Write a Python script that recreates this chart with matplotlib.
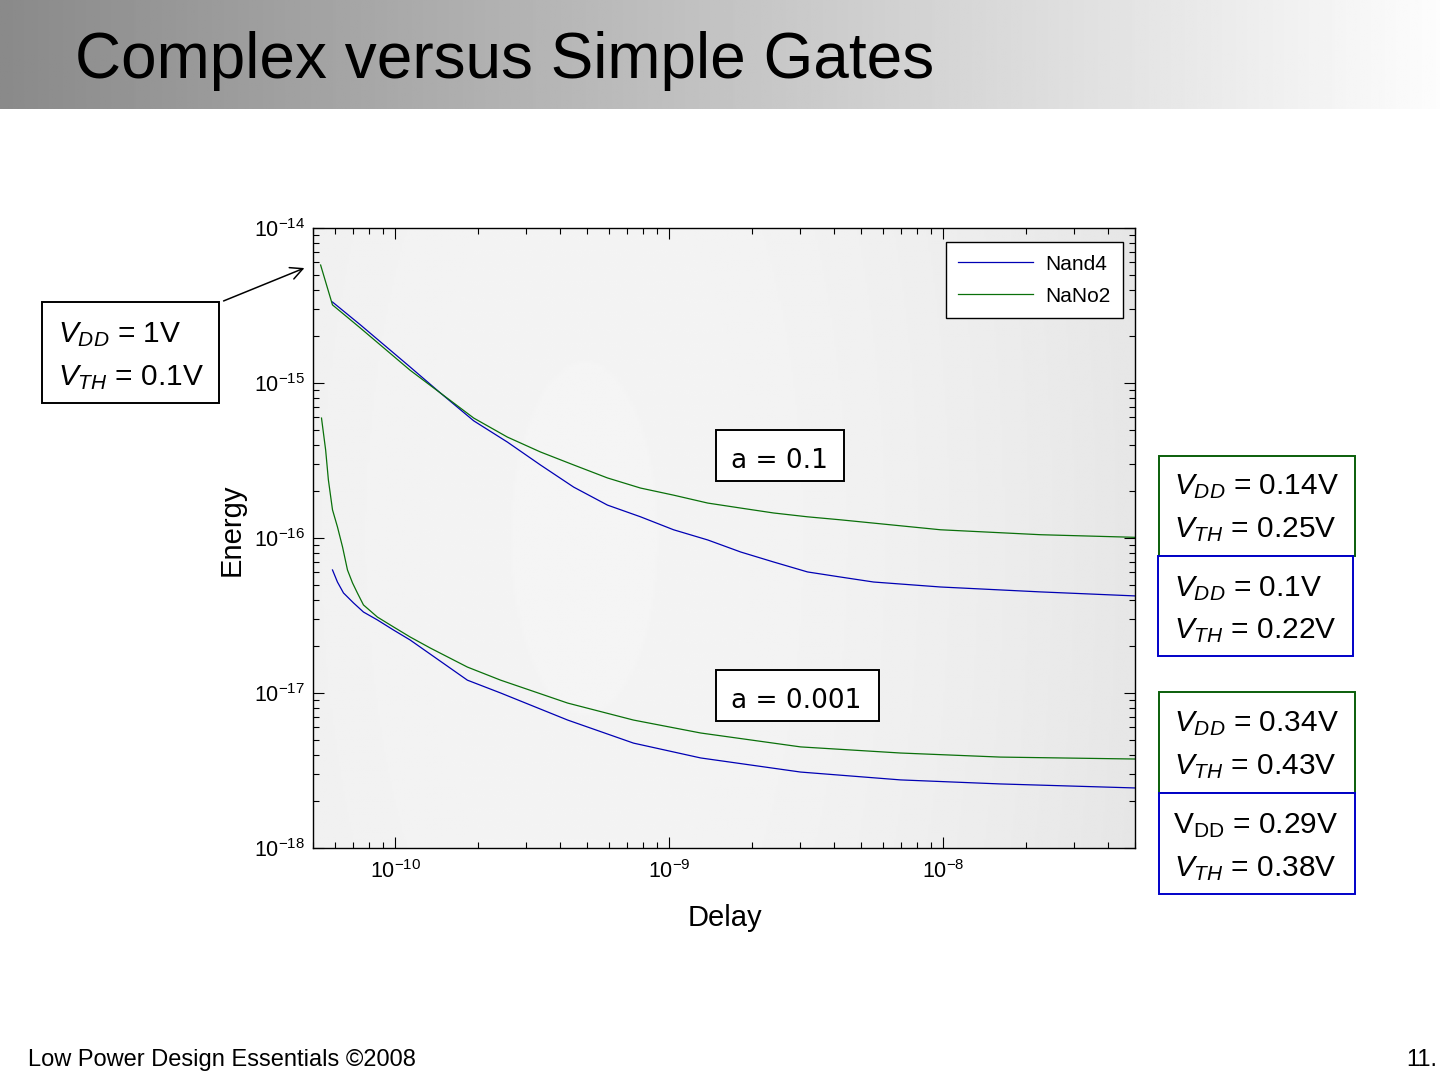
import matplotlib
matplotlib.use('Agg')
import matplotlib.pyplot as plt
import numpy as np
from matplotlib.patches import Rectangle, FancyArrowPatch

plt.rcParams['font.family'] = ['Liberation Sans', 'DejaVu Sans']
plt.rcParams['mathtext.fontset'] = 'custom'
plt.rcParams['mathtext.rm'] = 'Liberation Sans'
plt.rcParams['mathtext.it'] = 'Liberation Sans:italic'
plt.rcParams['mathtext.default'] = 'regular'

# a = 0.1
nand4_hi_delay = [5.89e-11, 7.45e-11, 1.13e-10, 1.46e-10, 1.93e-10, 2.56e-10, 3.38e-10, 4.47e-10,
                  5.94e-10, 7.84e-10, 1.035e-9, 1.38e-9, 1.82e-9, 2.40e-9, 3.19e-9, 4.21e-9,
                  5.56e-9, 9.75e-9, 2.26e-8, 5.0e-8]
nand4_hi_energy = [3.33e-15, 2.37e-15, 1.27e-15, 8.61e-16, 5.70e-16, 4.16e-16, 2.96e-16, 2.13e-16,
                   1.63e-16, 1.37e-16, 1.13e-16, 9.71e-17, 8.12e-17, 7.00e-17, 6.04e-17, 5.60e-17,
                   5.20e-17, 4.83e-17, 4.49e-17, 4.23e-17]
nano2_hi_delay = [5.33e-11, 5.89e-11, 7.45e-11, 1.13e-10, 1.46e-10, 1.93e-10, 2.56e-10, 3.38e-10,
                  4.47e-10, 5.94e-10, 7.84e-10, 1.035e-9, 1.38e-9, 1.82e-9, 2.40e-9, 3.19e-9,
                  4.21e-9, 9.75e-9, 2.26e-8, 5.0e-8]
nano2_hi_energy = [5.77e-15, 3.19e-15, 2.26e-15, 1.21e-15, 8.61e-16, 5.94e-16, 4.48e-16, 3.59e-16,
                   2.96e-16, 2.44e-16, 2.10e-16, 1.89e-16, 1.68e-16, 1.56e-16, 1.45e-16, 1.37e-16,
                   1.31e-16, 1.13e-16, 1.05e-16, 1.01e-16]

# a = 0.001
nand4_lo_delay = [5.89e-11, 6.14e-11, 6.46e-11, 7.03e-11, 7.64e-11, 8.59e-11, 9.83e-11, 1.13e-10,
                  1.83e-10, 2.42e-10, 4.25e-10, 7.39e-10, 1.30e-9, 3.01e-9, 6.97e-9, 1.61e-8, 5.0e-8]
nand4_lo_energy = [6.22e-17, 5.20e-17, 4.42e-17, 3.81e-17, 3.33e-17, 2.96e-17, 2.55e-17, 2.20e-17,
                   1.21e-17, 1.00e-17, 6.69e-18, 4.75e-18, 3.81e-18, 3.09e-18, 2.75e-18, 2.59e-18,
                   2.44e-18]
nano2_lo_delay = [5.37e-11, 5.56e-11, 5.69e-11, 5.89e-11, 6.14e-11, 6.41e-11, 6.68e-11, 6.97e-11,
                  7.26e-11, 7.64e-11, 8.59e-11, 9.83e-11, 1.13e-10, 1.34e-10, 1.83e-10, 2.42e-10,
                  4.25e-10, 7.39e-10, 1.30e-9, 3.01e-9, 6.97e-9, 1.61e-8, 5.0e-8]
nano2_lo_energy = [5.94e-16, 3.70e-16, 2.37e-16, 1.52e-16, 1.18e-16, 8.74e-17, 6.22e-17, 5.13e-17,
                   4.42e-17, 3.70e-17, 3.09e-17, 2.67e-17, 2.30e-17, 1.95e-17, 1.47e-17, 1.21e-17,
                   8.61e-18, 6.69e-18, 5.52e-18, 4.49e-18, 4.10e-18, 3.86e-18, 3.75e-18]

BLUE = '#0000b4'
GREEN = '#0a700a'
W, H = 1440, 1080


def fx(x):
    return x / W


def fy(y):
    return 1 - y / H


fig = plt.figure(figsize=(14.4, 10.8), dpi=100)

# title bar
tb = fig.add_axes([0, fy(109), 1, 109 / H])
tb.imshow(np.linspace(0.54, 0.99, 512)[None, :], cmap='gray', vmin=0, vmax=1,
          aspect='auto', extent=[0, 1, 0, 1])
tb.set_xticks([])
tb.set_yticks([])
tb.axis('off')
fig.text(fx(75), fy(78), 'Complex versus Simple Gates', fontsize=46, va='baseline')

# plot area with soft shaded background
pos = [fx(313), fy(848), (1135 - 313) / W, (848 - 228) / H]
bg = fig.add_axes(pos)
u = np.linspace(0, 1, 400)
v = np.linspace(0, 1, 300)
U, V = np.meshgrid(u, v)
shade = 0.958 - 0.055 * ((U - 0.33) / 0.67) ** 2 - 0.012 * (V - 0.5) ** 2
bg.imshow(shade, cmap='gray', vmin=0, vmax=1, aspect='auto', extent=[0, 1, 0, 1])
bg.set_xticks([])
bg.set_yticks([])
bg.axis('off')

ax = fig.add_axes(pos)
ax.patch.set_visible(False)
ax.loglog(nand4_hi_delay, nand4_hi_energy, color=BLUE, lw=0.9, label='Nand4')
ax.loglog(nano2_hi_delay, nano2_hi_energy, color=GREEN, lw=0.9, label='NaNo2')
ax.loglog(nand4_lo_delay, nand4_lo_energy, color=BLUE, lw=0.9)
ax.loglog(nano2_lo_delay, nano2_lo_energy, color=GREEN, lw=0.9)
ax.set_xlim(5e-11, 5e-8)
ax.set_ylim(1e-18, 1e-14)
ax.tick_params(which='both', direction='in', top=True, right=True, width=0.8, labelsize=15.5)
ax.tick_params(which='major', length=8)
ax.tick_params(which='minor', length=4)
ax.tick_params(axis='x', pad=9)
ax.tick_params(axis='y', pad=6)
for s in ax.spines.values():
    s.set_linewidth(1.0)

leg = ax.legend(loc='upper right', bbox_to_anchor=(0.985, 0.977), borderaxespad=0,
                fontsize=15, handlelength=3.6, handletextpad=0.55, labelspacing=0.62,
                borderpad=0.6, fancybox=False, edgecolor='black', framealpha=1)
leg.get_frame().set_linewidth(1.0)

fig.text(fx(725), fy(918), 'Delay', fontsize=21, ha='center', va='center')
fig.text(fx(232), fy(530), 'Energy', fontsize=21, ha='center', va='center', rotation=90)


def box(x0, y0, x1, y1, ec):
    fig.add_artist(Rectangle((fx(x0), fy(y1)), (x1 - x0) / W, (y1 - y0) / H,
                             transform=fig.transFigure, fc='white', ec=ec, lw=1.4, zorder=2))


def line(x, y, s, size=21.5, family=None):
    fig.text(fx(x), fy(y), s, fontsize=size, va='baseline', zorder=3, family=family)


# left annotation with arrow
box(42, 302, 219, 403, 'black')
line(58, 342, r'$\mathit{V_{DD}}$ = 1V')
line(58, 385, r'$\mathit{V_{TH}}$ = 0.1V')
fig.add_artist(FancyArrowPatch((fx(221), fy(302)), (fx(307), fy(267)), transform=fig.transFigure,
                               arrowstyle='->', mutation_scale=22, lw=1.1, color='black'))

# activity labels
box(716, 430, 844, 481, 'black')
line(731, 468, 'a = 0.1', size=19, family='DejaVu Sans')
box(716, 670, 879, 721, 'black')
line(731, 708, 'a = 0.001', size=19, family='DejaVu Sans')

# right annotations
box(1159, 456, 1355, 556, '#0a5e0a')
line(1174, 494, r'$\mathit{V_{DD}}$ = 0.14V')
line(1174, 537, r'$\mathit{V_{TH}}$ = 0.25V')
box(1158, 556, 1353, 656, '#0000c8')
line(1174, 596, r'$\mathit{V_{DD}}$ = 0.1V')
line(1174, 638, r'$\mathit{V_{TH}}$ = 0.22V')
box(1159, 692, 1355, 793, '#0a5e0a')
line(1174, 731, r'$\mathit{V_{DD}}$ = 0.34V')
line(1174, 774, r'$\mathit{V_{TH}}$ = 0.43V')
box(1159, 793, 1355, 894, '#0000c8')
line(1173, 833, r'$V_{DD}$ = 0.29V')
line(1174, 876, r'$\mathit{V_{TH}}$ = 0.38V')

# footer
fig.text(fx(28), fy(1066), 'Low Power Design Essentials \u00a92008', fontsize=17, va='baseline')
fig.text(fx(1406), fy(1066), '11.', fontsize=17, va='baseline')

fig.savefig('out.png', dpi=100)
